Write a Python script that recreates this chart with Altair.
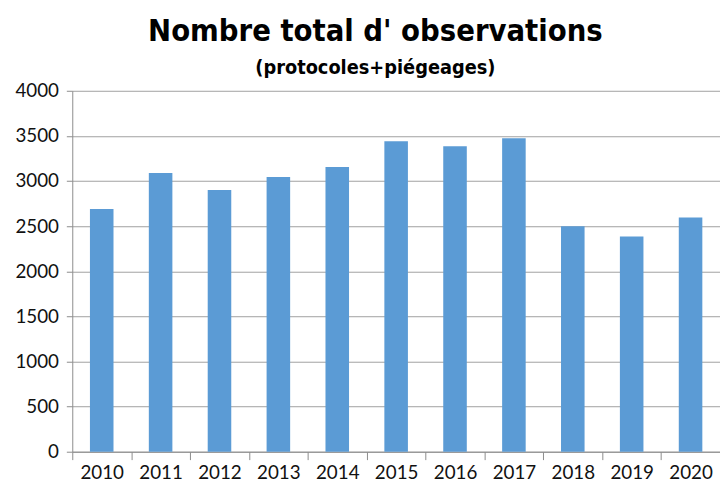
import altair as alt
import pandas as pd

years = ["2010", "2011", "2012", "2013", "2014", "2015", "2016", "2017", "2018", "2019", "2020"]
observations = [2690, 3090, 2900, 3045, 3155, 3440, 3385, 3475, 2500, 2385, 2595]

df = pd.DataFrame({"annee": years, "obs": observations})

TITLE_FONT = "DejaVu Sans Condensed"
LABEL_FONT = "Lato"
W = 655
step = W / len(years)

chart = alt.Chart(df).mark_bar(color="#5B9BD5").encode(
    x=alt.X("annee:N", sort=years, title=None,
            scale=alt.Scale(paddingInner=0.6, paddingOuter=0.3),
            axis=alt.Axis(labelAngle=0, labelFont=LABEL_FONT, labelFontSize=19, labelColor="#111111",
                          labelPadding=4, domainColor="#8C8C8C", tickColor="#8C8C8C",
                          tickSize=8, tickOffset=-step / 2, labelOffset=step / 2, grid=False)),
    y=alt.Y("obs:Q", title=None,
            scale=alt.Scale(domain=[0, 4000], nice=False),
            axis=alt.Axis(values=list(range(0, 4001, 500)), format="d", labelFont=LABEL_FONT,
                          labelFontSize=19, labelColor="#111111", labelPadding=8,
                          domainColor="#8C8C8C", tickColor="#8C8C8C", tickSize=6,
                          gridColor="#A0A0A0")),
).properties(
    width=W,
    height=365,
    autosize=alt.AutoSizeParams(type="none"),
    padding={"left": 65, "top": 81, "right": 0, "bottom": 35},
    title=alt.TitleParams(
        text="Nombre total d' observations",
        subtitle="(protocoles+piégeages)",
        anchor="middle", frame="group", dx=-21, offset=3,
        font=TITLE_FONT, fontSize=31, fontWeight="bold", color="#000000",
        subtitleFont=TITLE_FONT, subtitleFontSize=20, subtitleFontWeight="bold",
        subtitleColor="#000000", subtitlePadding=10,
    ),
).configure_view(stroke=None)

chart.save("out.html", embed_options={"renderer": "svg", "actions": False})
